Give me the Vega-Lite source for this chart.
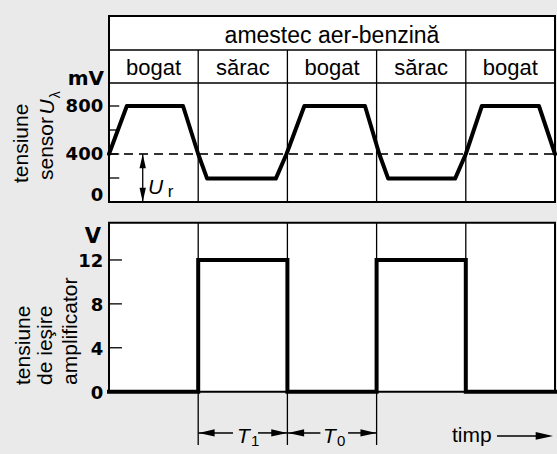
{
  "$schema": "https://vega.github.io/schema/vega-lite/v6.json",
  "width": 446,
  "height": 438,
  "autosize": {"type": "none"},
  "padding": {"left": 109, "top": 16, "right": 2, "bottom": 0},
  "background": "#eaeaea",
  "config": {"view": {"stroke": null}},
  "data": {"values": [{}]},
  "datasets": {
    "sensor": [
      {"t": 0, "mv": 400}, {"t": 0.2, "mv": 800}, {"t": 0.83, "mv": 800}, {"t": 1.0, "mv": 400},
      {"t": 1.1, "mv": 195}, {"t": 1.87, "mv": 195}, {"t": 1.99, "mv": 400}, {"t": 2.19, "mv": 800},
      {"t": 2.87, "mv": 800}, {"t": 3.03, "mv": 400}, {"t": 3.13, "mv": 195}, {"t": 3.88, "mv": 195},
      {"t": 4.0, "mv": 400}, {"t": 4.18, "mv": 800}, {"t": 4.82, "mv": 800}, {"t": 5.0, "mv": 400}
    ],
    "amp": [
      {"t": 0, "v": 0}, {"t": 1, "v": 12}, {"t": 2, "v": 0}, {"t": 3, "v": 12}, {"t": 4, "v": 0}, {"t": 5, "v": 0}
    ],
    "mix": [
      {"t0": 0, "t1": 1, "mid": 0.5, "mix": "bogat"},
      {"t0": 1, "t1": 2, "mid": 1.5, "mix": "sărac"},
      {"t0": 2, "t1": 3, "mid": 2.5, "mix": "bogat"},
      {"t0": 3, "t1": 4, "mid": 3.5, "mix": "sărac"},
      {"t0": 4, "t1": 5, "mid": 4.5, "mix": "bogat"}
    ],
    "mvTicks": [
      {"mv": 0, "lab": "0"}, {"mv": 200, "lab": ""}, {"mv": 400, "lab": "400"}, {"mv": 600, "lab": ""}, {"mv": 800, "lab": "800"}
    ],
    "vTicks": [
      {"v": 0, "lab": "0"}, {"v": 4, "lab": "4"}, {"v": 8, "lab": "8"}, {"v": 12, "lab": "12"}
    ]
  },
  "layer": [
    {
      "layer": [
        {
          "mark": {"type": "rect", "fill": "white", "strokeWidth": 0},
          "encoding": {
            "x": {"datum": 0, "type": "quantitative", "scale": {"domain": [0, 5], "nice": false, "zero": false}, "axis": null},
            "x2": {"datum": 5},
            "y": {"datum": 0, "type": "quantitative", "scale": {"domain": [-2100, 1550], "nice": false, "zero": false}, "axis": null},
            "y2": {"datum": 1550}
          }
        },
        {
          "mark": {"type": "rule", "color": "black", "strokeWidth": 1.6},
          "encoding": {"x": {"datum": 0, "type": "quantitative", "axis": null}, "x2": {"datum": 5}, "y": {"datum": 1266.7, "type": "quantitative", "axis": null}}
        },
        {
          "mark": {"type": "rule", "color": "black", "strokeWidth": 1.6},
          "encoding": {"x": {"datum": 0, "type": "quantitative", "axis": null}, "x2": {"datum": 5}, "y": {"datum": 991.7, "type": "quantitative", "axis": null}}
        },
        {
          "data": {"name": "mix"},
          "transform": [{"filter": "datum.t0 > 0"}],
          "mark": {"type": "rule", "color": "black", "strokeWidth": 1.3},
          "encoding": {"x": {"field": "t0", "type": "quantitative", "axis": null}, "y": {"datum": 0, "type": "quantitative", "axis": null}, "y2": {"datum": 1266.7}}
        },
        {
          "data": {"name": "mix"},
          "mark": {"type": "text", "font": "Liberation Sans", "fontSize": 22, "align": "center", "baseline": "alphabetic", "color": "black"},
          "encoding": {"x": {"field": "mid", "type": "quantitative", "axis": null}, "y": {"datum": 1058, "type": "quantitative", "axis": null}, "text": {"field": "mix"}}
        },
        {
          "mark": {"type": "text", "text": "amestec aer-benzină", "font": "Liberation Sans", "fontSize": 23, "align": "center", "baseline": "alphabetic", "color": "black"},
          "encoding": {"x": {"datum": 2.5, "type": "quantitative", "axis": null}, "y": {"datum": 1321, "type": "quantitative", "axis": null}}
        },
        {
          "mark": {"type": "rule", "color": "#333333", "strokeWidth": 1.8, "strokeDash": [9, 6]},
          "encoding": {"x": {"datum": 0, "type": "quantitative", "axis": null}, "x2": {"datum": 5}, "y": {"datum": 400, "type": "quantitative", "axis": null}}
        },
        {
          "data": {"name": "mvTicks"},
          "mark": {"type": "rule", "color": "black", "strokeWidth": 1.3},
          "encoding": {"x": {"datum": 0, "type": "quantitative", "axis": null}, "x2": {"datum": 0.115}, "y": {"field": "mv", "type": "quantitative", "axis": null}}
        },
        {
          "data": {"name": "mvTicks"},
          "transform": [{"filter": "datum.mv > 0"}],
          "mark": {"type": "text", "font": "DejaVu Sans", "fontWeight": "bold", "fontSize": 18, "align": "right", "baseline": "middle", "dy": 1, "color": "black"},
          "encoding": {"x": {"datum": -0.065, "type": "quantitative", "axis": null}, "y": {"field": "mv", "type": "quantitative", "axis": null}, "text": {"field": "lab"}}
        },
        {
          "data": {"name": "mvTicks"},
          "transform": [{"filter": "datum.mv == 0"}],
          "mark": {"type": "text", "font": "DejaVu Sans", "fontWeight": "bold", "fontSize": 18, "align": "right", "baseline": "middle", "dy": -6, "color": "black"},
          "encoding": {"x": {"datum": -0.065, "type": "quantitative", "axis": null}, "y": {"field": "mv", "type": "quantitative", "axis": null}, "text": {"field": "lab"}}
        },
        {
          "data": {"name": "sensor"},
          "mark": {"type": "line", "color": "black", "strokeWidth": 4, "strokeJoin": "round", "strokeCap": "round"},
          "encoding": {"x": {"field": "t", "type": "quantitative", "axis": null}, "y": {"field": "mv", "type": "quantitative", "axis": null}}
        },
        {
          "mark": {"type": "rule", "color": "black", "strokeWidth": 1.3},
          "encoding": {"x": {"datum": 0.378, "type": "quantitative", "axis": null}, "y": {"datum": 0, "type": "quantitative", "axis": null}, "y2": {"datum": 400}}
        },
        {
          "mark": {"type": "point", "shape": "M0,0 L-0.45,2 L0.45,2 Z", "filled": true, "color": "black", "opacity": 1, "size": 200},
          "encoding": {"x": {"datum": 0.378, "type": "quantitative", "axis": null}, "y": {"datum": 400, "type": "quantitative", "axis": null}}
        },
        {
          "mark": {"type": "point", "shape": "M0,0 L-0.45,-2 L0.45,-2 Z", "filled": true, "color": "black", "opacity": 1, "size": 200},
          "encoding": {"x": {"datum": 0.378, "type": "quantitative", "axis": null}, "y": {"datum": 0, "type": "quantitative", "axis": null}}
        },
        {
          "mark": {"type": "text", "text": "U", "font": "Liberation Sans", "fontStyle": "italic", "fontSize": 21, "align": "left", "baseline": "alphabetic", "color": "black"},
          "encoding": {"x": {"datum": 0.437, "type": "quantitative", "axis": null}, "y": {"datum": 67, "type": "quantitative", "axis": null}}
        },
        {
          "mark": {"type": "text", "text": "r", "font": "Liberation Sans", "fontSize": 17, "align": "left", "baseline": "alphabetic", "color": "black"},
          "encoding": {"x": {"datum": 0.66, "type": "quantitative", "axis": null}, "y": {"datum": 42, "type": "quantitative", "axis": null}}
        },
        {
          "mark": {"type": "text", "text": "mV", "font": "DejaVu Sans", "fontWeight": "bold", "fontSize": 20, "align": "right", "baseline": "alphabetic", "color": "black"},
          "encoding": {"x": {"datum": -0.056, "type": "quantitative", "axis": null}, "y": {"datum": 975, "type": "quantitative", "axis": null}}
        },
        {
          "mark": {"type": "text", "text": "tensiune", "font": "Liberation Sans", "fontSize": 21, "align": "left", "baseline": "alphabetic", "angle": 270, "color": "black"},
          "encoding": {"x": {"datum": -0.91, "type": "quantitative", "axis": null}, "y": {"datum": 158, "type": "quantitative", "axis": null}}
        },
        {
          "mark": {"type": "text", "text": "sensor", "font": "Liberation Sans", "fontSize": 21, "align": "left", "baseline": "alphabetic", "angle": 270, "color": "black"},
          "encoding": {"x": {"datum": -0.628, "type": "quantitative", "axis": null}, "y": {"datum": 183, "type": "quantitative", "axis": null}}
        },
        {
          "mark": {"type": "text", "text": "U", "font": "Liberation Sans", "fontStyle": "italic", "fontSize": 21, "align": "left", "baseline": "alphabetic", "angle": 270, "color": "black"},
          "encoding": {"x": {"datum": -0.617, "type": "quantitative", "axis": null}, "y": {"datum": 730, "type": "quantitative", "axis": null}}
        },
        {
          "mark": {"type": "text", "text": "λ", "font": "Liberation Sans", "fontSize": 14, "align": "left", "baseline": "alphabetic", "angle": 270, "color": "black"},
          "encoding": {"x": {"datum": -0.55, "type": "quantitative", "axis": null}, "y": {"datum": 865, "type": "quantitative", "axis": null}}
        },
        {
          "mark": {"type": "rect", "fill": "white", "fillOpacity": 0, "stroke": "black", "strokeWidth": 2},
          "encoding": {"x": {"datum": 0, "type": "quantitative", "axis": null}, "x2": {"datum": 5}, "y": {"datum": 0, "type": "quantitative", "axis": null}, "y2": {"datum": 1550}}
        }
      ]
    },
    {
      "layer": [
        {
          "mark": {"type": "rect", "fill": "white", "strokeWidth": 0},
          "encoding": {
            "x": {"datum": 0, "type": "quantitative", "axis": null},
            "x2": {"datum": 5},
            "y": {"datum": 0, "type": "quantitative", "scale": {"domain": [-5.68, 34.23], "nice": false, "zero": false}, "axis": null},
            "y2": {"datum": 15.4}
          }
        },
        {
          "data": {"name": "mix"},
          "transform": [{"filter": "datum.t0 > 0"}],
          "mark": {"type": "rule", "color": "black", "strokeWidth": 1.3},
          "encoding": {"x": {"field": "t0", "type": "quantitative", "axis": null}, "y": {"datum": 0, "type": "quantitative", "axis": null}, "y2": {"datum": 15.4}}
        },
        {
          "data": {"name": "mix"},
          "transform": [{"filter": "datum.t0 > 0 && datum.t0 < 4"}],
          "mark": {"type": "rule", "color": "black", "strokeWidth": 1.3},
          "encoding": {"x": {"field": "t0", "type": "quantitative", "axis": null}, "y": {"datum": -4.86, "type": "quantitative", "axis": null}, "y2": {"datum": 0}}
        },
        {
          "data": {"name": "vTicks"},
          "mark": {"type": "rule", "color": "black", "strokeWidth": 1.3},
          "encoding": {"x": {"datum": 0, "type": "quantitative", "axis": null}, "x2": {"datum": 0.145}, "y": {"field": "v", "type": "quantitative", "axis": null}}
        },
        {
          "data": {"name": "vTicks"},
          "mark": {"type": "text", "font": "DejaVu Sans", "fontWeight": "bold", "fontSize": 18, "align": "right", "baseline": "middle", "dy": 2, "color": "black"},
          "encoding": {"x": {"datum": -0.065, "type": "quantitative", "axis": null}, "y": {"field": "v", "type": "quantitative", "axis": null}, "text": {"field": "lab"}}
        },
        {
          "data": {"name": "amp"},
          "mark": {"type": "line", "interpolate": "step-after", "color": "black", "strokeWidth": 4, "strokeJoin": "miter", "strokeCap": "square"},
          "encoding": {"x": {"field": "t", "type": "quantitative", "axis": null}, "y": {"field": "v", "type": "quantitative", "axis": null}}
        },
        {
          "mark": {"type": "rule", "color": "black", "strokeWidth": 1.5},
          "encoding": {"x": {"datum": 1.0, "type": "quantitative", "axis": null}, "x2": {"datum": 1.39}, "y": {"datum": -3.76, "type": "quantitative", "axis": null}}
        },
        {
          "mark": {"type": "rule", "color": "black", "strokeWidth": 1.5},
          "encoding": {"x": {"datum": 1.67, "type": "quantitative", "axis": null}, "x2": {"datum": 2.0}, "y": {"datum": -3.76, "type": "quantitative", "axis": null}}
        },
        {
          "mark": {"type": "rule", "color": "black", "strokeWidth": 1.5},
          "encoding": {"x": {"datum": 2.0, "type": "quantitative", "axis": null}, "x2": {"datum": 2.37}, "y": {"datum": -3.76, "type": "quantitative", "axis": null}}
        },
        {
          "mark": {"type": "rule", "color": "black", "strokeWidth": 1.5},
          "encoding": {"x": {"datum": 2.68, "type": "quantitative", "axis": null}, "x2": {"datum": 3.0}, "y": {"datum": -3.76, "type": "quantitative", "axis": null}}
        },
        {
          "mark": {"type": "rule", "color": "black", "strokeWidth": 1.5},
          "encoding": {"x": {"datum": 4.35, "type": "quantitative", "axis": null}, "x2": {"datum": 4.93}, "y": {"datum": -4.03, "type": "quantitative", "axis": null}}
        },
        {
          "mark": {"type": "point", "shape": "M0,0 L2,-0.45 L2,0.45 Z", "filled": true, "color": "black", "opacity": 1, "size": 256},
          "encoding": {"x": {"datum": 1.005, "type": "quantitative", "axis": null}, "y": {"datum": -3.76, "type": "quantitative", "axis": null}}
        },
        {
          "mark": {"type": "point", "shape": "M0,0 L-2,-0.45 L-2,0.45 Z", "filled": true, "color": "black", "opacity": 1, "size": 256},
          "encoding": {"x": {"datum": 1.998, "type": "quantitative", "axis": null}, "y": {"datum": -3.76, "type": "quantitative", "axis": null}}
        },
        {
          "mark": {"type": "point", "shape": "M0,0 L2,-0.45 L2,0.45 Z", "filled": true, "color": "black", "opacity": 1, "size": 256},
          "encoding": {"x": {"datum": 2.008, "type": "quantitative", "axis": null}, "y": {"datum": -3.76, "type": "quantitative", "axis": null}}
        },
        {
          "mark": {"type": "point", "shape": "M0,0 L-2,-0.45 L-2,0.45 Z", "filled": true, "color": "black", "opacity": 1, "size": 256},
          "encoding": {"x": {"datum": 2.998, "type": "quantitative", "axis": null}, "y": {"datum": -3.76, "type": "quantitative", "axis": null}}
        },
        {
          "mark": {"type": "point", "shape": "M0,0 L-2,-0.45 L-2,0.45 Z", "filled": true, "color": "black", "opacity": 1, "size": 300},
          "encoding": {"x": {"datum": 4.978, "type": "quantitative", "axis": null}, "y": {"datum": -4.03, "type": "quantitative", "axis": null}}
        },
        {
          "mark": {"type": "text", "text": "T", "font": "Liberation Sans", "fontStyle": "italic", "fontSize": 21, "align": "left", "baseline": "alphabetic", "color": "black"},
          "encoding": {"x": {"datum": 1.435, "type": "quantitative", "axis": null}, "y": {"datum": -4.67, "type": "quantitative", "axis": null}}
        },
        {
          "mark": {"type": "text", "text": "1", "font": "Liberation Sans", "fontSize": 15, "align": "left", "baseline": "alphabetic", "color": "black"},
          "encoding": {"x": {"datum": 1.592, "type": "quantitative", "axis": null}, "y": {"datum": -4.95, "type": "quantitative", "axis": null}}
        },
        {
          "mark": {"type": "text", "text": "T", "font": "Liberation Sans", "fontStyle": "italic", "fontSize": 21, "align": "left", "baseline": "alphabetic", "color": "black"},
          "encoding": {"x": {"datum": 2.399, "type": "quantitative", "axis": null}, "y": {"datum": -4.67, "type": "quantitative", "axis": null}}
        },
        {
          "mark": {"type": "text", "text": "0", "font": "Liberation Sans", "fontSize": 15, "align": "left", "baseline": "alphabetic", "color": "black"},
          "encoding": {"x": {"datum": 2.556, "type": "quantitative", "axis": null}, "y": {"datum": -4.95, "type": "quantitative", "axis": null}}
        },
        {
          "mark": {"type": "text", "text": "timp", "font": "Liberation Sans", "fontSize": 21, "align": "left", "baseline": "alphabetic", "color": "black"},
          "encoding": {"x": {"datum": 3.845, "type": "quantitative", "axis": null}, "y": {"datum": -4.57, "type": "quantitative", "axis": null}}
        },
        {
          "mark": {"type": "text", "text": "V", "font": "DejaVu Sans", "fontWeight": "bold", "fontSize": 21, "align": "right", "baseline": "alphabetic", "color": "black"},
          "encoding": {"x": {"datum": -0.09, "type": "quantitative", "axis": null}, "y": {"datum": 13.55, "type": "quantitative", "axis": null}}
        },
        {
          "mark": {"type": "text", "text": "tensiune", "font": "Liberation Sans", "fontSize": 21, "align": "left", "baseline": "alphabetic", "angle": 270, "color": "black"},
          "encoding": {"x": {"datum": -0.885, "type": "quantitative", "axis": null}, "y": {"datum": 0.61, "type": "quantitative", "axis": null}}
        },
        {
          "mark": {"type": "text", "text": "de ieşire", "font": "Liberation Sans", "fontSize": 21, "align": "left", "baseline": "alphabetic", "angle": 270, "color": "black"},
          "encoding": {"x": {"datum": -0.639, "type": "quantitative", "axis": null}, "y": {"datum": 0.61, "type": "quantitative", "axis": null}}
        },
        {
          "mark": {"type": "text", "text": "amplificator", "font": "Liberation Sans", "fontSize": 21, "align": "left", "baseline": "alphabetic", "angle": 270, "color": "black"},
          "encoding": {"x": {"datum": -0.359, "type": "quantitative", "axis": null}, "y": {"datum": 0.61, "type": "quantitative", "axis": null}}
        },
        {
          "mark": {"type": "rect", "fill": "white", "fillOpacity": 0, "stroke": "black", "strokeWidth": 2},
          "encoding": {"x": {"datum": 0, "type": "quantitative", "axis": null}, "x2": {"datum": 5}, "y": {"datum": 0, "type": "quantitative", "axis": null}, "y2": {"datum": 15.4}}
        }
      ]
    }
  ],
  "resolve": {"scale": {"y": "independent"}}
}
